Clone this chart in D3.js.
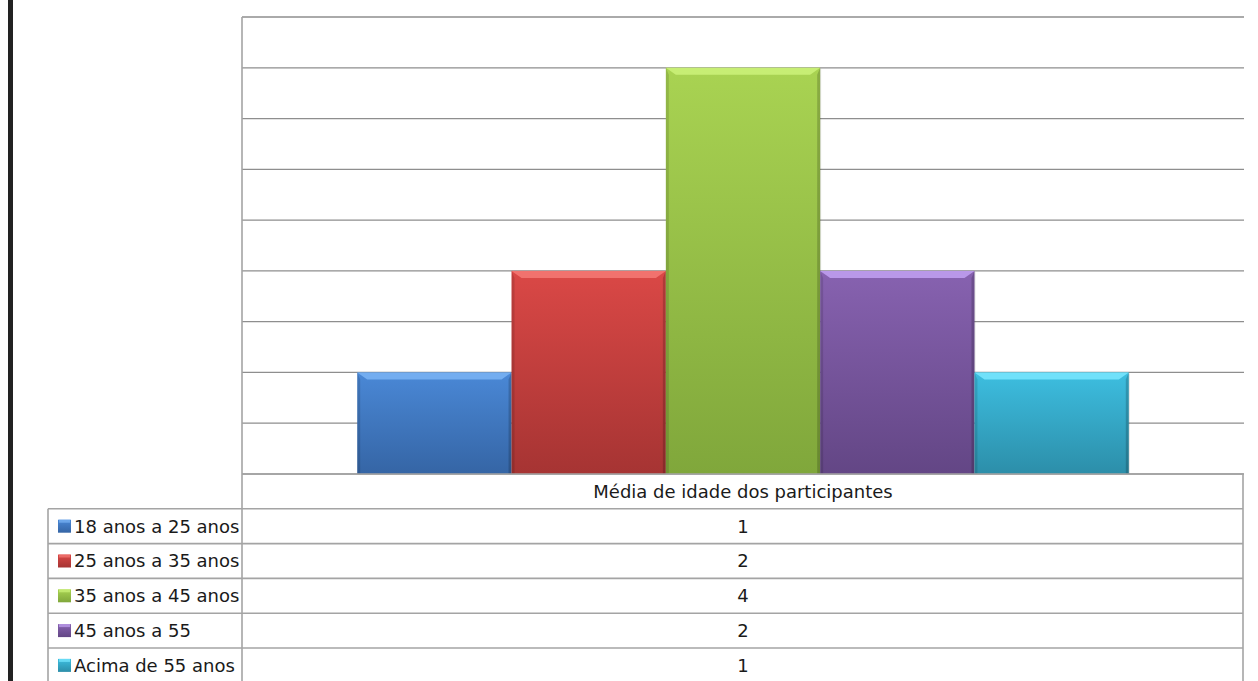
<!DOCTYPE html>
<html><head><meta charset="utf-8">
<script src="https://cdn.jsdelivr.net/npm/d3@7"></script>
<style>html,body{margin:0;padding:0;background:#fff;overflow:hidden}</style>
</head><body>
<svg id="c" width="1258" height="681"></svg>
<script>
const category = "Média de idade dos participantes";
const seriesNames = ["18 anos a 25 anos","25 anos a 35 anos","35 anos a 45 anos","45 anos a 55","Acima de 55 anos"];
const seriesValues = [1,2,4,2,1];
const yTicks = [0,0.5,1,1.5,2,2.5,3,3.5,4,4.5];
const colorsTop = ["#4a88d6","#da4846","#a9d352","#8762b0","#3dbee0"];
const colorsBot = ["#3565a5","#a63433","#80a73b","#634685","#2c8ea9"];
const colorsBevel = ["#7ab4f4","#f47a76","#cdf27a","#c2a2f2","#7ae8ff"];

const svg = d3.select("#c");
const L = 242, R = 1244, T = 17, B = 474;
const rowH = 34.8;
const font = "DejaVu Sans, Verdana, sans-serif";
const fs = 18;

// left dark border
svg.append("rect").attr("x",8).attr("y",0).attr("width",5).attr("height",681).attr("fill","#222");

const y = d3.scaleLinear().domain([0,4.5]).range([B,T]);
const x0 = d3.scaleBand().domain([category]).range([L,R]).paddingInner(0.23).paddingOuter(0.115);
const x1 = d3.scaleBand().domain(seriesNames).range([0,x0.bandwidth()]).padding(0);

// gridlines
svg.append("g").selectAll("line").data(yTicks).join("line")
  .attr("x1",L).attr("x2",R).attr("y1",d=>y(d)).attr("y2",d=>y(d))
  .attr("stroke","#8e8e8e").attr("stroke-width",1.3);

// gradients
const defs = svg.append("defs");
seriesNames.forEach((s,i)=>{
  const g = defs.append("linearGradient").attr("id","g"+i).attr("x1",0).attr("y1",0).attr("x2",0).attr("y2",1);
  g.append("stop").attr("offset","0%").attr("stop-color",colorsTop[i]);
  g.append("stop").attr("offset","100%").attr("stop-color",colorsBot[i]);
});

const bars = svg.append("g").selectAll("g").data(seriesNames.map((s,i)=>({s,i,v:seriesValues[i]}))).join("g");
bars.each(function(d){
  const g = d3.select(this);
  const bx = x0(category)+x1(d.s), bw = x1.bandwidth(), by = y(d.v), bh = B - y(d.v);
  const e = 5, sEdge = 3;
  g.append("rect").attr("x",bx+1).attr("y",by+1).attr("width",bw).attr("height",bh-1).attr("fill","#000").attr("opacity",0.12);
  g.append("rect").attr("x",bx).attr("y",by).attr("width",bw).attr("height",bh).attr("fill",`url(#g${d.i})`);
  g.append("polygon").attr("points",[[bx,by],[bx+bw,by],[bx+bw-e*2,by+e+2],[bx+e*2,by+e+2]].join(" "))
    .attr("fill",colorsBevel[d.i]).attr("opacity",0.85);
  g.append("polygon").attr("points",[[bx,by],[bx+sEdge,by+e+2],[bx+sEdge,B],[bx,B]].join(" "))
    .attr("fill","#000").attr("opacity",0.12);
  g.append("polygon").attr("points",[[bx+bw,by],[bx+bw-sEdge,by+e+2],[bx+bw-sEdge,B],[bx+bw,B]].join(" "))
    .attr("fill","#000").attr("opacity",0.18);
});

// table
const tc = "#a4a4a4";
const tw = 1.6;
const tableRight = 1243;
svg.append("line").attr("x1",L).attr("x2",L).attr("y1",T).attr("y2",681).attr("stroke",tc).attr("stroke-width",tw);
svg.append("line").attr("x1",L).attr("x2",tableRight).attr("y1",B).attr("y2",B).attr("stroke",tc).attr("stroke-width",tw);
svg.append("line").attr("x1",tableRight).attr("x2",tableRight).attr("y1",B).attr("y2",681).attr("stroke",tc).attr("stroke-width",tw);
svg.append("text").attr("x",x0(category)+x0.bandwidth()/2).attr("y",B+rowH/2).attr("dy","0.36em")
  .attr("text-anchor","middle").attr("font-family",font).attr("font-size",fs).attr("fill","#1a1a1a").text(category);

const rowsTop = B + rowH;
svg.append("line").attr("x1",48).attr("x2",48).attr("y1",rowsTop).attr("y2",681).attr("stroke",tc).attr("stroke-width",tw);
const rows = svg.append("g").selectAll("g").data(seriesNames.map((s,i)=>({s,i,v:seriesValues[i]}))).join("g")
  .attr("transform",d=>`translate(0,${rowsTop + d.i*rowH})`);
rows.append("line").attr("x1",48).attr("x2",tableRight).attr("y1",0).attr("y2",0).attr("stroke",tc).attr("stroke-width",tw);
rows.append("rect").attr("x",58).attr("y",rowH/2-6.5).attr("width",13).attr("height",13).attr("fill",d=>`url(#g${d.i})`);
rows.append("rect").attr("x",59).attr("y",rowH/2-6.5).attr("width",11).attr("height",3).attr("fill",d=>colorsBevel[d.i]).attr("opacity",0.7);
rows.append("text").attr("x",74).attr("y",rowH/2).attr("dy","0.36em").attr("font-family",font).attr("font-size",fs)
  .attr("fill","#1a1a1a").text(d=>d.s);
rows.append("text").attr("x",x0(category)+x0.bandwidth()/2).attr("y",rowH/2).attr("dy","0.36em").attr("text-anchor","middle")
  .attr("font-family",font).attr("font-size",fs).attr("fill","#1a1a1a").text(d=>d.v);
</script>
</body></html>
